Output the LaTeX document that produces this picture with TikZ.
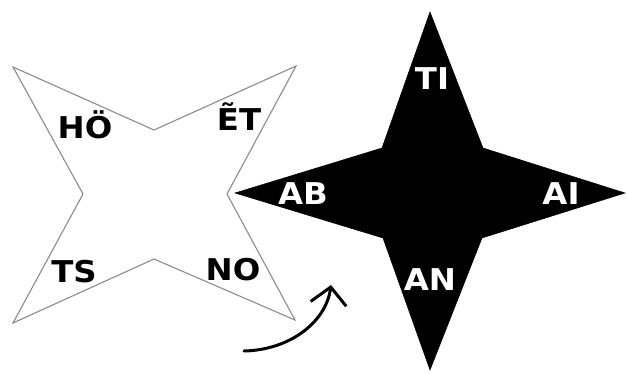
\documentclass[tikz,border=0pt]{standalone}
\usepackage{fontspec}
\newfontfamily\lblfont{DejaVu Sans}[FakeStretch=1.08]
\usetikzlibrary{arrows.meta}
\tikzset{
  outlinestar/.style={draw=gray!90, line width=1.1pt, fill=white, line join=miter},
  solidstar/.style={fill=black, draw=black, line width=0.5pt},
  lbl/.style={font=\lblfont\bfseries\fontsize{30}{30}\selectfont, anchor=base, inner sep=0pt},
  darklbl/.style={lbl, text=black},
  lightlbl/.style={lbl, text=white},
  turnarrow/.style={line width=3pt, line cap=round, -{Straight Barb[length=17pt,width=36pt,line width=3pt]}}
}
\begin{document}
\begin{tikzpicture}[x=1pt,y=-1pt]
\useasboundingbox (0,0) rectangle (627,373);
% black star
\draw[solidstar] (430,12) -- (483,148) -- (625,193) -- (482,238) -- (430,370)
  -- (383,238) -- (235,193) -- (382,148) -- cycle;
% outline star
\draw[outlinestar] (13,67) -- (154,130) -- (296,66) -- (227,194) -- (295,320)
  -- (154,259) -- (13,323) -- (83,194) -- cycle;
% labels
\node[darklbl] (ho) at (85,138) {HÖ};
\node[darklbl] (et) at (239,130) {ẼT};
\node[darklbl] (ts) at (74,282) {TS};
\node[darklbl] (no) at (233,280) {NO};
\node[lightlbl] (ti) at (432,89) {TI};
\node[lightlbl] (ab) at (303,204) {AB};
\node[lightlbl] (ai) at (561,204) {AI};
\node[lightlbl] (an) at (430,290) {AN};
% arrow
\coordinate (arrstart) at (244,351);
\coordinate (arrend) at (331,285);
\draw[turnarrow] (arrstart) .. controls (290,350) and (326,322) .. (arrend);
\end{tikzpicture}
\end{document}
